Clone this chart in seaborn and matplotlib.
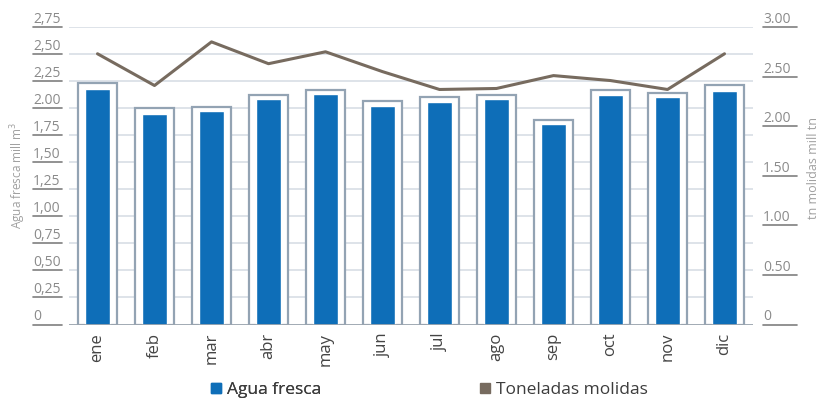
import numpy as np
import pandas as pd
import matplotlib
matplotlib.use('Agg')
import matplotlib.pyplot as plt
import matplotlib.transforms as mtransforms
from matplotlib.lines import Line2D
import seaborn as sns

meses = ['ene', 'feb', 'mar', 'abr', 'may', 'jun', 'jul', 'ago', 'sep', 'oct', 'nov', 'dic']
agua_fresca = [2.18, 1.95, 1.97, 2.08, 2.13, 2.02, 2.06, 2.08, 1.85, 2.12, 2.10, 2.16]
agua_marco = [2.23, 2.00, 2.01, 2.12, 2.17, 2.07, 2.10, 2.12, 1.89, 2.17, 2.14, 2.21]
toneladas = [2.73, 2.41, 2.85, 2.63, 2.75, 2.55, 2.37, 2.38, 2.51, 2.46, 2.37, 2.73]

left_ticks = [0, 0.25, 0.5, 0.75, 1.0, 1.25, 1.5, 1.75, 2.0, 2.25, 2.5, 2.75]
left_labels = ['0', '0,25', '0,50', '0,75', '1,00', '1,25', '1,50', '1,75', '2.00', '2,25', '2,50', '2,75']
right_ticks = [0, 0.5, 1.0, 1.5, 2.0, 2.5, 3.0]
right_labels = ['0', '0.50', '1.00', '1.50', '2.00', '2.50', '3.00']

AZUL = '#0e6eb8'
MARCO = '#93a3b3'
LINEA = '#776b5f'
GRID = '#d8dee5'
TXT = '#8a8a8a'

sns.set_style('white')
plt.rcParams['font.family'] = ['Open Sans', 'DejaVu Sans']

df = pd.DataFrame({'mes': meses, 'agua': agua_fresca, 'marco': agua_marco,
                   'ton': toneladas, 'pos': np.arange(len(meses))})

fig = plt.figure(figsize=(8.2, 4.01), dpi=100)
ax = fig.add_axes([69 / 820, 1 - 324.5 / 401, (753 - 69) / 820, (324.5 - 27) / 401])

# grid
for t in left_ticks[1:]:
    ax.axhline(t, color=GRID, lw=1.2, zorder=0)
ax.axhline(0, color='#9aa4ae', lw=1.3, zorder=4)

# bars: outline frame + blue fill
sns.barplot(data=df, x='mes', y='marco', color='white', edgecolor=MARCO,
            linewidth=1.6, width=0.67, ax=ax, zorder=2)
sns.barplot(data=df, x='mes', y='agua', color=AZUL, saturation=1,
            width=0.44, ax=ax, zorder=3)
ax.set_ylim(0, 2.75)
ax.set_xlim(-0.5, len(meses) - 0.5)
ax.set_xlabel('')
ax.set_ylabel('')
ax.set_yticks([])
ax.tick_params(axis='x', length=0, pad=6, labelsize=12, labelcolor='#444444', labelrotation=90)
for s in ax.spines.values():
    s.set_visible(False)

# line on secondary axis
ax2 = ax.twinx()
sns.lineplot(data=df, x='pos', y='ton', color=LINEA, lw=2.2, ax=ax2, sort=False, zorder=5)
ax2.set_ylim(0, 3.0)
ax2.set_yticks([])
ax2.set_ylabel('')
ax2.set_xlabel('')
for s in ax2.spines.values():
    s.set_visible(False)

# tick labels sitting on short underline marks
trL = mtransforms.blended_transform_factory(fig.transFigure, ax.transData)
for t, lab in zip(left_ticks, left_labels):
    ax.plot([33 / 820, 62 / 820], [t, t], transform=trL, color='#7f7f7f', lw=1.2, clip_on=False)
    ax.text(33 / 820, t, lab, transform=trL, ha='left', va='bottom', fontsize=10, color=TXT)

trR = mtransforms.blended_transform_factory(fig.transFigure, ax2.transData)
for t, lab in zip(right_ticks, right_labels):
    ax2.plot([763 / 820, 797 / 820], [t, t], transform=trR, color='#7f7f7f', lw=1.2, clip_on=False)
    ax2.text(763 / 820, t, lab, transform=trR, ha='left', va='bottom', fontsize=10, color=TXT)

fig.text(18 / 820, 1 - 175 / 401, 'Agua fresca mill m$^3$', rotation=90, ha='center', va='center',
         fontsize=8.5, color='#a0a0a0')
fig.text(814 / 820, 1 - 168 / 401, 'tn molidas mill tn', rotation=90, ha='center', va='center',
         fontsize=9, color='#a0a0a0')

# legend, one entry each
legend_kw = dict(loc='center left', frameon=False, fontsize=12.5, labelcolor='#3c3c3c',
                 handletextpad=0.2, handlelength=0.8, borderpad=0, borderaxespad=0)
leg1 = fig.legend([Line2D([], [], marker='s', ls='', color=AZUL, markersize=6.5)], ['Agua fresca'],
                  bbox_to_anchor=(209.5 / 820, 1 - 390 / 401), **legend_kw)
fig.add_artist(leg1)
fig.legend([Line2D([], [], marker='s', ls='', color=LINEA, markersize=6.5)], ['Toneladas molidas'],
           bbox_to_anchor=(478.5 / 820, 1 - 390 / 401), **legend_kw)

fig.savefig('out.png', dpi=100)
